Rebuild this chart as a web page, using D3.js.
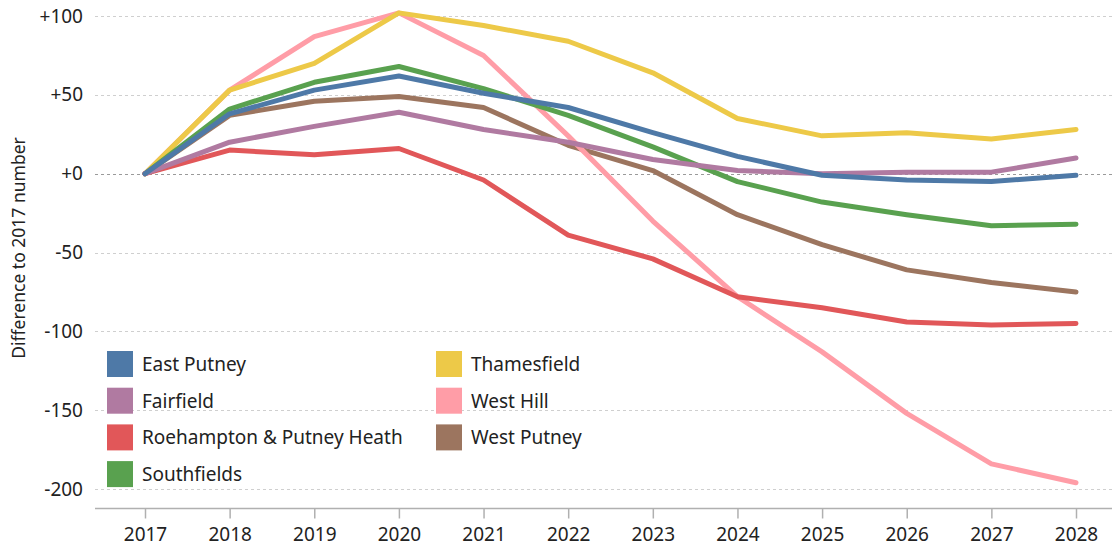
<!DOCTYPE html>
<html>
<head>
<meta charset="utf-8">
<script src="https://cdn.jsdelivr.net/npm/d3@7"></script>
<style>
  body { margin: 0; background: #fff; }
  svg { font-family: "Noto Sans", "Open Sans", sans-serif; }
</style>
</head>
<body>
<div id="chart"></div>
<script>
// years on the x axis
const years = [2017, 2018, 2019, 2020, 2021, 2022, 2023, 2024, 2025, 2026, 2027, 2028];

// difference to 2017 number, per ward
const eastPutney  = [0, 38, 53, 62, 51, 42, 26, 11, -1, -4, -5, -1];
const fairfield   = [0, 20, 30, 39, 28, 20, 9, 2, 0, 1, 1, 10];
const roehampton  = [0, 15, 12, 16, -4, -39, -54, -78, -85, -94, -96, -95];
const southfields = [0, 41, 58, 68, 54, 37, 17, -5, -18, -26, -33, -32];
const thamesfield = [0, 53, 70, 102, 94, 84, 64, 35, 24, 26, 22, 28];
const westHill    = [0, 53, 87, 102, 75, 24, -30, -78, -113, -152, -184, -196];
const westPutney  = [0, 37, 46, 49, 42, 18, 2, -26, -45, -61, -69, -75];

const wardNames = ["East Putney", "Fairfield", "Roehampton & Putney Heath", "Southfields",
                   "Thamesfield", "West Hill", "West Putney"];
const wardValues = [eastPutney, fairfield, roehampton, southfields, thamesfield, westHill, westPutney];
const wardColors = ["#4e79a7", "#b07aa1", "#e15759", "#59a14f", "#edc948", "#ff9da7", "#9c755f"];

const yTicks = [100, 50, 0, -50, -100, -150, -200];

const width = 1112, height = 551;

const svg = d3.select("#chart").append("svg")
  .attr("width", width)
  .attr("height", height);

const x = d3.scaleLinear()
  .domain([2017, 2028])
  .range([145, 1076]);

const y = d3.scaleLinear()
  .domain([-212.2, 107])
  .range([508.3, 5]);

// horizontal grid
svg.append("g")
  .selectAll("line")
  .data(yTicks)
  .join("line")
  .attr("x1", 95)
  .attr("x2", width)
  .attr("y1", d => Math.round(y(d)) + 0.5)
  .attr("y2", d => Math.round(y(d)) + 0.5)
  .attr("stroke", d => d === 0 ? "#9a9a9a" : "#cfcfcf")
  .attr("stroke-width", 1.2)
  .attr("stroke-dasharray", "3,3");

// y axis labels
const fmt = d => (d >= 0 ? "+" : "-") + Math.abs(d);
svg.append("g")
  .attr("transform", "translate(95,0)")
  .call(d3.axisLeft(y).tickValues(yTicks).tickFormat(fmt).tickSize(0).tickPadding(12))
  .call(g => g.select(".domain").remove())
  .call(g => g.selectAll("text")
    .attr("font-size", 19)
    .attr("fill", "#222")
    .attr("font-family", "Noto Sans, Open Sans, sans-serif"));

// x axis
svg.append("g")
  .attr("transform", "translate(0,508.5)")
  .call(d3.axisBottom(x).tickValues(years).tickFormat(d3.format("d")).tickSize(10).tickPadding(9))
  .call(g => g.select(".domain").attr("d", "M95,0H" + width).attr("stroke", "#b0b0b0").attr("stroke-width", 1.5))
  .call(g => g.selectAll(".tick line").attr("stroke", "#b0b0b0").attr("stroke-width", 1.5))
  .call(g => g.selectAll("text")
    .attr("font-size", 19)
    .attr("fill", "#222")
    .attr("font-family", "Noto Sans, Open Sans, sans-serif"));

// y axis title
svg.append("text")
  .attr("transform", "translate(25,248) rotate(-90)")
  .attr("text-anchor", "middle")
  .attr("font-size", 17.5)
  .attr("fill", "#222")
  .text("Difference to 2017 number");

// lines, last ward drawn first
const line = d3.line()
  .x((d, i) => x(years[i]))
  .y(d => y(d));

const order = d3.range(wardNames.length).reverse();
svg.append("g")
  .selectAll("path")
  .data(order)
  .join("path")
  .attr("d", i => line(wardValues[i]))
  .attr("fill", "none")
  .attr("stroke", i => wardColors[i])
  .attr("stroke-width", 5)
  .attr("stroke-linejoin", "round")
  .attr("stroke-linecap", "round");

// legend, two columns
const legend = svg.append("g");
const item = legend.selectAll("g")
  .data(wardNames)
  .join("g")
  .attr("transform", (d, i) => {
    const col = i < 4 ? 0 : 1;
    const row = i < 4 ? i : i - 4;
    return `translate(${107 + col * 329},${351 + row * 36.7})`;
  });

item.append("rect")
  .attr("width", 26)
  .attr("height", 26)
  .attr("fill", (d, i) => wardColors[i]);

item.append("text")
  .attr("x", 35)
  .attr("y", 20)
  .attr("font-size", 19)
  .attr("fill", "#222")
  .text(d => d);
</script>
</body>
</html>
